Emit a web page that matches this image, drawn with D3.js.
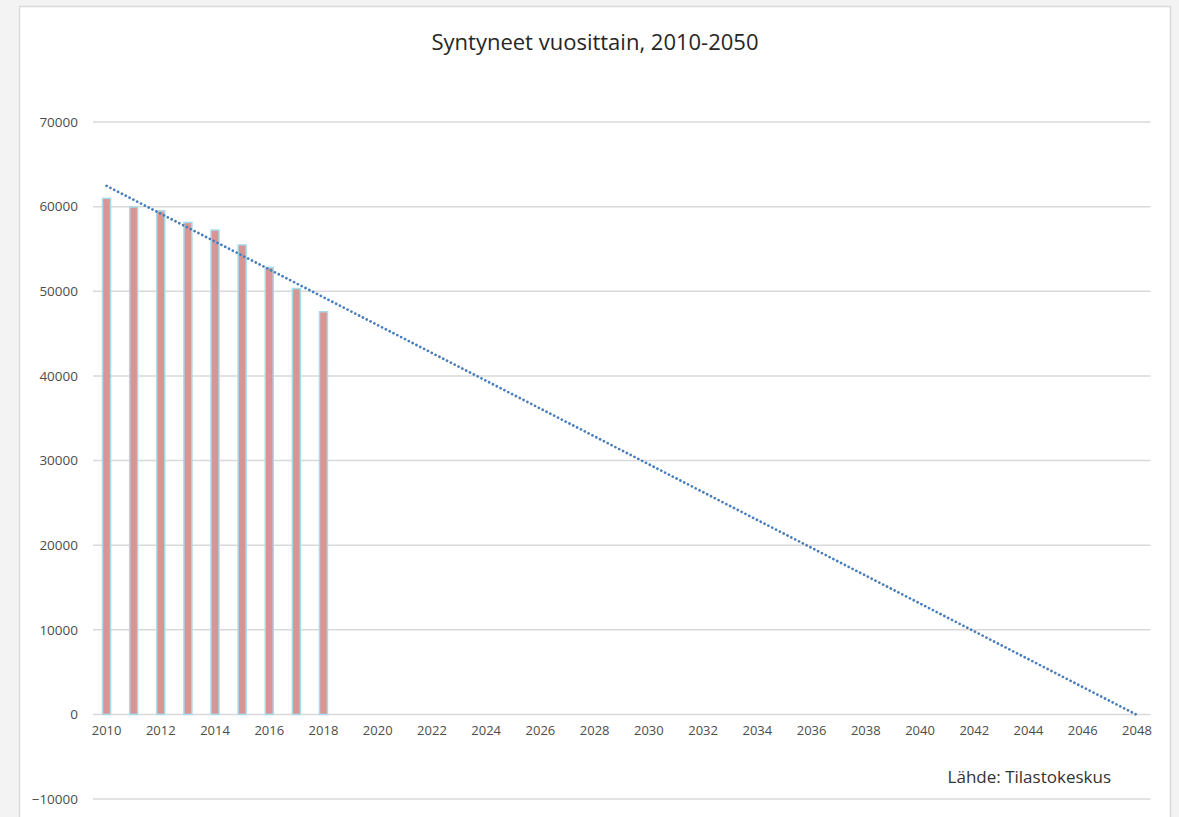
<!DOCTYPE html>
<html>
<head>
<meta charset="utf-8">
<script src="https://cdn.jsdelivr.net/npm/d3@7"></script>
<style>
  html, body { margin: 0; padding: 0; background: #f3f3f3; }
  svg { display: block; font-family: "Open Sans", sans-serif; }
</style>
</head>
<body>
<div id="chart"></div>
<script>
// data
var years = [2010, 2011, 2012, 2013, 2014, 2015, 2016, 2017, 2018, 2019,
             2020, 2021, 2022, 2023, 2024, 2025, 2026, 2027, 2028, 2029,
             2030, 2031, 2032, 2033, 2034, 2035, 2036, 2037, 2038, 2039,
             2040, 2041, 2042, 2043, 2044, 2045, 2046, 2047, 2048];
var birthYears = [2010, 2011, 2012, 2013, 2014, 2015, 2016, 2017, 2018];
var births = [60980, 59961, 59493, 58134, 57232, 55472, 52814, 50321, 47577];
// linear trendline end points
var trendYears = [2010, 2048];
var trendValues = [62450, -60];
var yTicks = [-10000, 0, 10000, 20000, 30000, 40000, 50000, 60000, 70000];
var xTickLabels = years.filter(function(d) { return d % 2 === 0; });

var containerWidth = 1179,
    containerHeight = 817,
    plot = { left: 93, right: 1150.5, top: 122, bottom: 799 };

var svg = d3.select("#chart")
    .append("svg")
    .attr("width", containerWidth)
    .attr("height", containerHeight);

// white panel
svg.append("rect")
    .attr("x", 19.5)
    .attr("y", 6.5)
    .attr("width", 1151)
    .attr("height", 830)
    .attr("fill", "#ffffff")
    .attr("stroke", "#dadada")
    .attr("stroke-width", 1.5);

var x = d3.scaleBand()
    .domain(years)
    .range([plot.left, plot.right])
    .padding(0);

var y = d3.scaleLinear()
    .domain([-10000, 70000])
    .range([plot.bottom, plot.top]);

// gridlines
svg.append("g")
    .selectAll("line")
    .data(yTicks)
    .enter().append("line")
    .attr("x1", plot.left)
    .attr("x2", plot.right)
    .attr("y1", function(d) { return y(d); })
    .attr("y2", function(d) { return y(d); })
    .attr("stroke", "#d9d9d9")
    .attr("stroke-width", 1.5);

// y labels
var yAxis = svg.append("g")
    .attr("transform", "translate(" + (plot.left - 15) + ",0)")
    .call(d3.axisLeft(y).tickValues(yTicks).tickSize(0).tickPadding(0).tickFormat(d3.format("d")));
yAxis.select(".domain").remove();
yAxis.selectAll("text")
    .attr("fill", "#4d4d4d")
    .style("font-size", "13.5px")
    .style("font-family", "'Open Sans', sans-serif");

// x labels
var xAxis = svg.append("g")
    .attr("transform", "translate(0," + (y(0) + 16) + ")")
    .call(d3.axisBottom(x).tickValues(xTickLabels).tickSize(0).tickPadding(0));
xAxis.select(".domain").remove();
xAxis.selectAll("text")
    .attr("fill", "#4d4d4d")
    .attr("dy", "0.32em")
    .style("font-size", "13px")
    .style("font-family", "'Open Sans', sans-serif");

// bars
var barWidth = 8;
svg.append("g")
    .selectAll("rect")
    .data(birthYears)
    .enter().append("rect")
    .attr("x", function(d) { return x(d) + x.bandwidth() / 2 - barWidth / 2; })
    .attr("y", function(d, i) { return y(births[i]); })
    .attr("width", barWidth)
    .attr("height", function(d, i) { return y(0) - y(births[i]); })
    .attr("fill", "#d99594")
    .attr("stroke", "#a5dbeb")
    .attr("stroke-width", 1.5);

// trendline
var line = d3.line()
    .x(function(d) { return x(d) + x.bandwidth() / 2; })
    .y(function(d, i) { return y(trendValues[i]); });

svg.append("path")
    .datum(trendYears)
    .attr("d", line)
    .attr("fill", "none")
    .attr("stroke", "#4a7ebb")
    .attr("stroke-width", 2.7)
    .attr("stroke-linecap", "round")
    .attr("stroke-dasharray", "0.1,4.2");

// title
svg.append("text")
    .attr("x", 595)
    .attr("y", 50)
    .attr("text-anchor", "middle")
    .attr("fill", "#262626")
    .style("font-size", "22px")
    .text("Syntyneet vuosittain, 2010-2050");

// source
svg.append("text")
    .attr("x", 1111)
    .attr("y", 783)
    .attr("text-anchor", "end")
    .attr("fill", "#333333")
    .style("font-size", "17px")
    .text("Lähde: Tilastokeskus");
</script>
</body>
</html>
